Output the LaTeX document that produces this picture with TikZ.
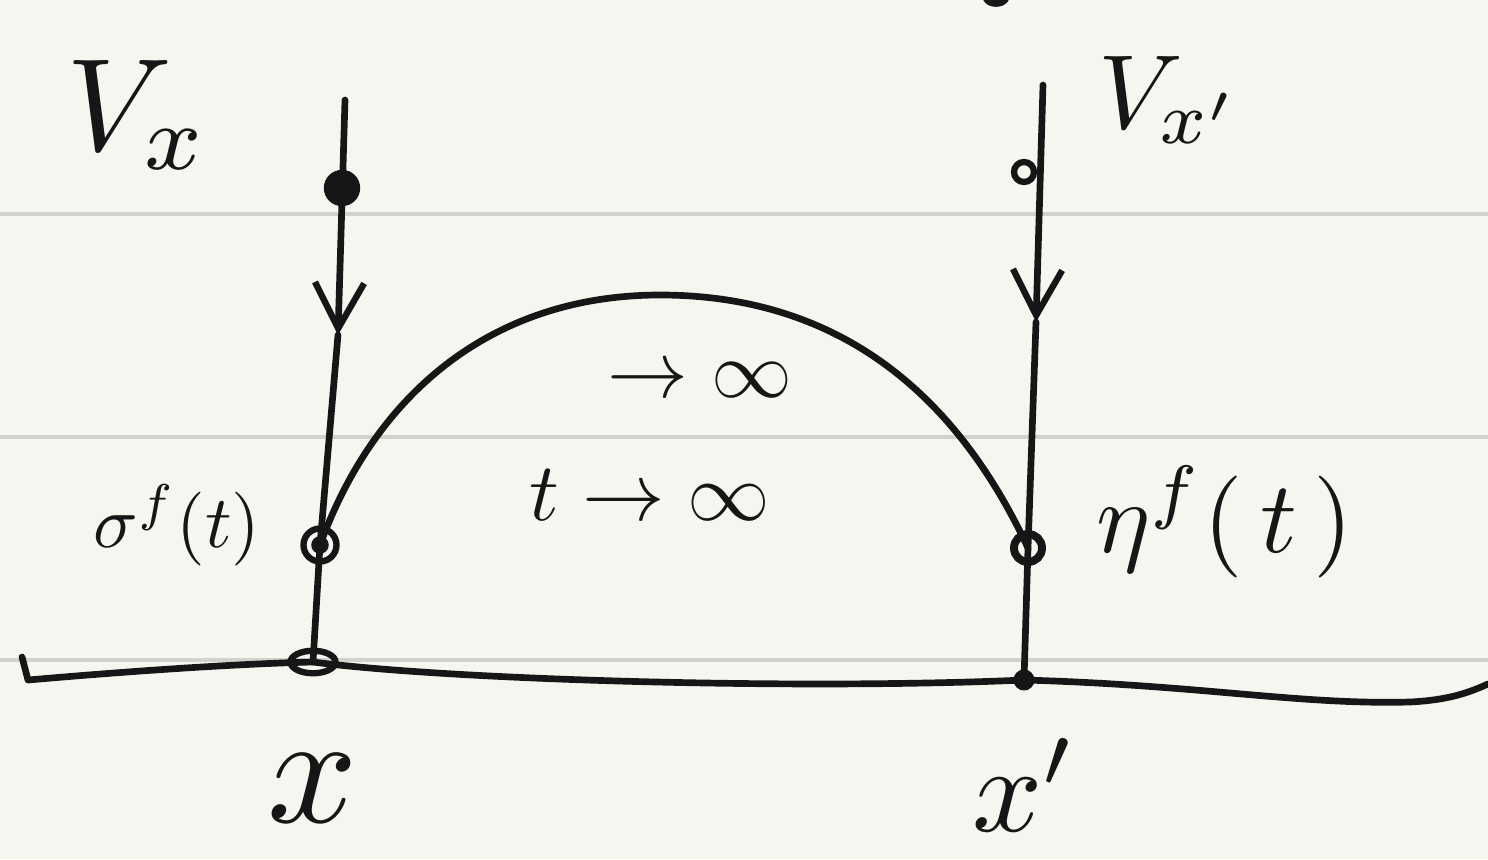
\documentclass[tikz,border=0pt]{standalone}
\usepackage{amsmath}
\usetikzlibrary{arrows.meta,positioning,shapes.geometric}
\definecolor{paper}{RGB}{246,246,241}
\definecolor{ruleline}{RGB}{210,210,204}
\definecolor{ink}{RGB}{22,22,22}

\begin{document}
\begin{tikzpicture}[x=0.02cm,y=-0.02cm,
  pen/.style={draw=ink,line width=3.8pt,line cap=round,line join=round},
  pt/.style={circle,draw=ink,line width=3.6pt,inner sep=0pt,minimum size=0.55cm},
  lab/.style={text=ink,inner sep=0pt},
  barb/.style={-{Straight Barb[length=26pt,width=28pt,line width=3.6pt]}}
]
  % paper and ruling
  \fill[paper] (0,0) rectangle (1488,859);
  \useasboundingbox (0,0) rectangle (1488,859);
  \foreach \y in {214,437,660}
    \draw[ruleline,line width=2.8pt] (0,\y) -- (1488,\y);

  % points on the two vertical lines
  \coordinate (ltop) at (345,100);
  \node[pt,fill=ink,minimum size=0.6cm] (vx) at (342,188) {};
  \coordinate (larr) at (338,335);
  \node[pt,minimum size=0.66cm] (sig) at (320,545) {};
  \fill[ink] (sig) circle (5pt);
  \node[ellipse,draw=ink,line width=3.6pt,inner sep=0pt,minimum width=0.9cm,minimum height=0.45cm] (xpt) at (313,662) {};

  \coordinate (rtop) at (1043,85);
  \node[pt,minimum size=0.4cm] (vxp) at (1024,172) {};
  \coordinate (rarr) at (1036,322);
  \node[pt,line width=4.5pt,minimum size=0.56cm] (eta) at (1028,548) {};
  \node[circle,fill=ink,inner sep=0pt,minimum size=0.42cm] (xdash) at (1024,680) {};

  % vertical lines with arrows
  \draw[pen,barb] (ltop) -- (larr);
  \draw[pen] (larr) -- (sig.center) -- (xpt.center);
  \draw[pen,barb] (rtop) -- (rarr);
  \draw[pen] (rarr) -- (eta.center) -- (xdash.center);

  % the curve from sigma to eta
  \draw[pen] (sig.center) to[out=70,in=180] (660,295) to[out=0,in=115] (eta.center);

  % boundary
  \draw[pen] (22,657) -- (28,680) .. controls (120,672) and (230,664) .. (xpt.center)
    .. controls (450,680) and (800,690) .. (xdash.center)
    .. controls (1200,685) and (1300,705) .. (1410,702)
    .. controls (1450,700) and (1470,692) .. (1488,684);
  \draw[pen] (986,-2) to[out=-70,in=-110] (1006,-2);

  % labels
  \node[lab,scale=7.5] (lvx) at (138,115) {$V_x$};
  \node[lab,scale=6] (lvxp) at (1170,100) {$V_{x'}$};
  \node[lab,scale=4.2] (lsig) at (177,525) {$\sigma^f(t)$};
  \node[lab,scale=5.8] (leta) at (1225,522) {$\eta^f(\,t\,)$};
  \node[lab,scale=4.6] (linf) at (700,380) {$\to\infty$};
  \node[lab,scale=4.7] (ltinf) at (650,495) {$t\to\infty$};
  \node[lab,scale=9,below=1.5cm of xpt] (lx) {$x$};
  \node[lab,scale=7] (lxp) at (1025,785) {$x'$};
\end{tikzpicture}
\end{document}
